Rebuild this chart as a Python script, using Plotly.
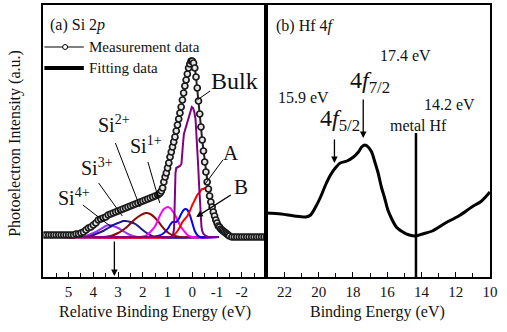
import plotly.graph_objects as go

W, H = 507, 332
SERIF = "'Liberation Serif', 'Times New Roman', Times, serif"
TXT = "#111111"

# ---------------- (a) Si 2p : measured spectrum ----------------
si_energy = [6.0, 5.9, 5.8, 5.7, 5.6, 5.5, 5.4, 5.3, 5.2, 5.1, 5.0, 4.9, 4.8, 4.7, 4.6, 4.5,
             4.4, 4.3, 4.2, 4.1, 4.0, 3.9, 3.8, 3.7, 3.6, 3.5, 3.4, 3.3, 3.2, 3.1, 3.0, 2.9,
             2.8, 2.7, 2.6, 2.5, 2.4, 2.3, 2.2, 2.1, 2.0, 1.9, 1.8, 1.7, 1.6, 1.5, 1.4,
             1.35, 1.30, 1.25, 1.20, 1.15, 1.10, 1.05, 1.00, 0.95, 0.90, 0.85, 0.80, 0.75,
             0.70, 0.65, 0.60, 0.55, 0.50, 0.45, 0.40, 0.35, 0.30, 0.25, 0.20, 0.15, 0.10,
             0.05, 0.00, -0.05, -0.10, -0.15, -0.20, -0.25, -0.30, -0.35, -0.40, -0.45,
             -0.50, -0.55, -0.60, -0.65, -0.70, -0.75, -0.80, -0.85, -0.90, -0.95, -1.00,
             -1.05, -1.10, -1.15, -1.20, -1.25, -1.30, -1.35, -1.40, -1.45, -1.50,
             -1.6, -1.7, -1.8, -1.9, -2.0, -2.1, -2.2, -2.3, -2.4, -2.5, -2.6, -2.7, -2.8,
             -2.9, -3.0]
si_measured = [42, 42, 42, 42, 42, 42, 42, 42, 42, 42, 42, 42, 42, 43, 43, 44,
               45, 47, 49, 50, 52, 54, 57, 58, 59, 60, 62, 63, 64, 65, 66, 67,
               68, 69, 70, 71, 72, 73, 74, 75, 76, 77, 78, 79, 80, 81, 82,
               83, 84, 86, 89, 95, 100, 104, 109, 114, 120, 125, 130, 135,
               140, 146, 152, 158, 164, 170, 177, 184, 191, 197, 203, 209, 213,
               216, 216, 214, 209, 200, 189, 176, 163, 150, 137, 126,
               115, 105, 95, 88, 81, 75, 70, 65, 61, 57, 54,
               51, 50, 48, 47, 46, 45, 44, 43, 42, 41,
               40, 40, 40, 40, 40, 40, 40, 40, 40, 40, 40, 40, 40,
               40, 40]

# ---------------- (a) fitted components ----------------
si4_E = [5.3, 4.6, 4.3, 4.1, 3.9, 3.7, 3.5, 3.35, 3.2, 3.0, 2.8, 2.6, 2.4, 2.2, -1.07]
si4_y = [40, 40, 41, 43, 45, 48, 51, 52, 51, 49, 46, 43, 41, 40, 40]

si3_E = [5.3, 4.3, 4.0, 3.8, 3.6, 3.4, 3.2, 3.0, 2.8, 2.7, 2.5, 2.3, 2.1, 1.9, 1.7, 1.5, -1.07]
si3_y = [40, 40, 42, 44, 46, 49, 52, 54, 56, 56, 55, 53, 49, 45, 42, 40, 40]

si2_E = [5.3, 3.6, 3.3, 3.0, 2.8, 2.6, 2.4, 2.2, 2.0, 1.86, 1.7, 1.5, 1.3, 1.1, 0.9, 0.7, 0.5, -1.07]
si2_y = [40, 40, 41, 44, 47, 51, 56, 60, 63, 64, 63, 59, 53, 47, 43, 41, 40, 40]

si1_E = [5.3, 2.1, 1.9, 1.7, 1.5, 1.3, 1.15, 1.0, 0.9, 0.8, 0.7, 0.6, 0.5, 0.4, 0.3, 0.2, 0.0, -1.07]
si1_y = [40, 40, 41, 45, 51, 62, 68, 70, 69, 66, 62, 57, 52, 48, 45, 42, 40, 40]

compB_E = [5.3, 1.6, 1.4, 1.2, 1.0, 0.9, 0.8, 0.72, 0.65, 0.55, 0.45, 0.35, 0.27, 0.2, 0.1,
           0.0, -0.1, -0.2, -0.3, -1.07]
compB_y = [40, 40, 41, 43, 48, 52, 55, 55, 55, 58, 63, 67, 68, 67, 62, 54, 46, 42, 40, 40]

compA_E = [5.3, 0.9, 0.8, 0.7, 0.6, 0.5, 0.4, 0.3, 0.2, 0.1, 0.0, -0.1, -0.2, -0.3, -0.4,
           -0.45, -0.5, -0.55, -0.6, -0.65, -0.7, -0.75, -0.8, -0.85, -0.9, -0.95, -1.0,
           -1.05, -1.1, -1.15, -1.2, -1.25, -1.3, -1.35, -1.4, -1.5]
compA_y = [40, 40, 41, 43, 46, 50, 55, 58, 61, 66, 72, 77, 82, 85, 88,
           88, 89, 88, 86, 86, 79, 73, 68, 63, 59, 55, 52,
           49, 48, 46, 45, 44, 43, 42, 41, 40]

bulk_E = [5.3, 0.85, 0.78, 0.74, 0.72, 0.70, 0.68, 0.65, 0.58, 0.50, 0.44, 0.40, 0.37, 0.34,
          0.28, 0.20, 0.12, 0.06, 0.02, -0.03, -0.08, -0.13, -0.17, -0.20, -0.24, -0.27,
          -0.30, -0.33, -0.37, -0.40, -0.45, -0.55, -0.65, -1.07]
bulk_y = [40, 40, 42, 48, 65, 90, 104, 109, 110, 111, 113, 122, 135, 143,
          148, 155, 163, 168, 170, 169, 165, 158, 143, 127, 110, 94,
          76, 60, 50, 46, 43, 41, 40, 40]

# ---------------- (b) Hf 4f spectrum ----------------
hf_energy = [23.06, 22.19, 21.43, 20.75, 20.47, 20.18, 19.89, 19.60, 19.31, 19.03, 18.74,
             18.35, 17.97, 17.68, 17.49, 17.30, 17.11, 16.91, 16.72, 16.53, 16.34, 16.15,
             15.96, 15.76, 15.47, 15.09, 14.71, 14.32, 13.94, 13.37, 12.60, 11.83, 11.06,
             10.49, 10.00]
hf_intensity = [64, 63, 61, 60, 62, 70, 80, 92, 102, 109, 114,
                116, 120, 125, 130, 132, 130, 125, 115, 104, 90, 79,
                67, 59, 50, 45, 42, 41, 43, 46, 54, 61, 70,
                76, 85]

# markers / reference energies
si_arrow_energy = 3.15
hf_f72_energy = 17.40
hf_f52_energy = 19.08
hf_metal_energy = 14.32

# tick labels
left_tick_vals = [5, 4, 3, 2, 1, 0, -1, -2]
left_tick_text = ["5", "4", "3", "2", "1", "0", "-1", "-2"]
right_tick_vals = [22, 20, 18, 16, 14, 12, 10]
right_tick_text = ["22", "20", "18", "16", "14", "12", "10"]

# ---------------- figure ----------------
def PX(x):
    return x / W

def PY(y):
    return 1 - y / H

fig = go.Figure()

comp_styles = [
    (si4_E, si4_y, "#9933ff"),
    (si3_E, si3_y, "#1a1a8c"),
    (si2_E, si2_y, "#8b0a0a"),
    (si1_E, si1_y, "#ff00ff"),
    (compB_E, compB_y, "#0000ff"),
    (compA_E, compA_y, "#ff0000"),
]
for ex, ey, col in comp_styles:
    fig.add_trace(go.Scatter(x=ex, y=ey, mode="lines", xaxis="x", yaxis="y",
                             line=dict(color=col, width=2, shape="spline", smoothing=0.8),
                             showlegend=False, hoverinfo="skip"))
fig.add_trace(go.Scatter(x=bulk_E, y=bulk_y, mode="lines", xaxis="x", yaxis="y",
                         line=dict(color="#800080", width=2),
                         showlegend=False, hoverinfo="skip"))
fig.add_trace(go.Scatter(x=si_energy, y=si_measured, mode="lines+markers", xaxis="x", yaxis="y",
                         line=dict(color="#222222", width=2),
                         marker=dict(symbol="circle", size=6, color="#e6e6e6",
                                     line=dict(color="#1a1a1a", width=1.7)),
                         showlegend=False, hoverinfo="skip"))
fig.add_trace(go.Scatter(x=hf_energy, y=hf_intensity, mode="lines", xaxis="x2", yaxis="y2",
                         line=dict(color="black", width=3, shape="spline", smoothing=0.8),
                         showlegend=False, hoverinfo="skip"))

ydom = [1 - 277 / H, 1 - 5 / H]
xdom1 = [44 / W, 270 / W]
xdom2 = [270 / W, 497 / W]
left_range = [6.02, -2.99]
right_range = [23.06, 9.99]

axis_common = dict(showline=True, linecolor="black", linewidth=1.5, mirror=True,
                   showgrid=False, zeroline=False)
tickfont = dict(family=SERIF, size=15, color=TXT)

fig.update_layout(
    width=W, height=H,
    margin=dict(l=0, r=0, t=0, b=0),
    paper_bgcolor="white", plot_bgcolor="white",
    font=dict(family=SERIF, color=TXT),
    xaxis=dict(domain=xdom1, range=left_range, anchor="y", **axis_common,
               tickmode="array", tickvals=left_tick_vals, ticktext=left_tick_text,
               ticks="inside", ticklen=5, tickwidth=1, tickcolor="black",
               tickfont=tickfont, ticklabelstandoff=0,
               minor=dict(ticks="inside", tickmode="linear", tick0=0, dtick=0.5,
                          ticklen=4, tickcolor="black")),
    xaxis2=dict(domain=xdom2, range=right_range, anchor="y2", **axis_common,
                tickmode="array", tickvals=right_tick_vals, ticktext=right_tick_text,
                ticks="inside", ticklen=5, tickwidth=1, tickcolor="black",
                tickfont=tickfont, ticklabelstandoff=0,
                minor=dict(ticks="inside", tickmode="linear", tick0=0, dtick=1,
                           ticklen=4, tickcolor="black")),
    xaxis3=dict(overlaying="x", side="top", anchor="y", range=left_range,
                tickmode="linear", tick0=5.446, dtick=0.729, ticks="inside", ticklen=5,
                tickcolor="black", showticklabels=False, showline=False,
                showgrid=False, zeroline=False),
    xaxis4=dict(overlaying="x2", side="top", anchor="y2", range=right_range,
                tickmode="linear", tick0=21.43, dtick=1, ticks="inside", ticklen=5,
                tickcolor="black", showticklabels=False, showline=False,
                showgrid=False, zeroline=False),
    yaxis=dict(domain=ydom, range=[0, 272], anchor="x", **axis_common,
               showticklabels=False, ticks=""),
    yaxis2=dict(domain=ydom, range=[0, 272], anchor="x2", **axis_common,
                showticklabels=False, ticks=""),
)

ann = []

def text(t, x, y, size, xanchor="center", yanchor="middle", angle=0):
    ann.append(dict(text=t, x=PX(x), y=PY(y), xref="paper", yref="paper",
                    xanchor=xanchor, yanchor=yanchor, showarrow=False, textangle=angle,
                    font=dict(family=SERIF, size=size, color=TXT)))

# axis titles
text("Photoelectron Intensity (a.u.)", 15, 143, 16, angle=-90)
text("Relative Binding Energy (eV)", 157, 312, 16)
text("Binding Energy (eV)", 383, 312, 16)

# panel (a)
text("(a) Si 2<i>p</i>", 49, 25, 16, xanchor="left")
text("Measurement data", 88, 47, 15, xanchor="left")
text("Fitting data", 88, 68, 15, xanchor="left")
text("Bulk", 238, 81, 24)
text("Si<sup>2+</sup>", 97, 124, 20, xanchor="left")
text("Si<sup>1+</sup>", 130, 145, 20, xanchor="left")
text("Si<sup>3+</sup>", 80, 167, 20, xanchor="left")
text("Si<sup>4+</sup>", 57, 197, 20, xanchor="left")
text("A", 234, 153, 21)
text("B", 244, 187, 21)

# panel (b)
text("(b) Hf 4<i>f</i>", 278, 26, 16, xanchor="left")
text("17.4 eV", 411, 56, 16)
text("4<i>f</i><sub>7/2</sub>", 353, 82, 24, xanchor="left")
text("15.9 eV", 308, 97, 16)
text("14.2 eV", 456, 104, 16)
text("4<i>f</i><sub>5/2</sub>", 322, 120, 24, xanchor="left")
text("metal Hf", 424, 125, 16)

# arrows (data coordinates)
def arrow(x, y, ax, ay, xr, yr):
    ann.append(dict(text="", x=x, y=y, xref=xr, yref=yr, ax=ax, ay=ay,
                    showarrow=True, arrowhead=2, arrowsize=1, arrowwidth=1.3,
                    arrowcolor="black"))

arrow(si_arrow_energy, 1, 0, -36, "x", "y")
arrow(-0.16, 60, 36, -23, "x", "y")
arrow(hf_f72_energy, 139, 0, -40, "x2", "y2")
arrow(hf_f52_energy, 114, 0, -25, "x2", "y2")

shapes = []

def seg(x0, y0, x1, y1, w=1):
    shapes.append(dict(type="line", xref="paper", yref="paper",
                       x0=PX(x0), y0=PY(y0), x1=PX(x1), y1=PY(y1),
                       line=dict(color="black", width=w)))

# leader lines
seg(213, 91, 200, 100)
seg(117, 143, 142, 207)
seg(150, 162, 162, 203)
seg(100, 183, 124, 216)
seg(84, 205, 113, 227)
seg(226, 160, 208, 184)

# legend glyphs
seg(45, 47, 85, 47, 1)
shapes.append(dict(type="circle", xref="paper", yref="paper",
                   x0=PX(63.5), x1=PX(68.5), y0=PY(49.5), y1=PY(44.5),
                   fillcolor="white", line=dict(color="black", width=1)))
seg(45, 68, 85, 68, 4)

# metal Hf reference line
shapes.append(dict(type="line", xref="x2", yref="y2", x0=hf_metal_energy, x1=hf_metal_energy,
                   y0=0, y1=144, line=dict(color="black", width=2.5)))

fig.update_layout(annotations=ann, shapes=shapes)
fig.write_html("out.html", config={"displayModeBar": False},
               post_script="document.body.style.margin='0px';document.body.style.overflow='hidden';")
